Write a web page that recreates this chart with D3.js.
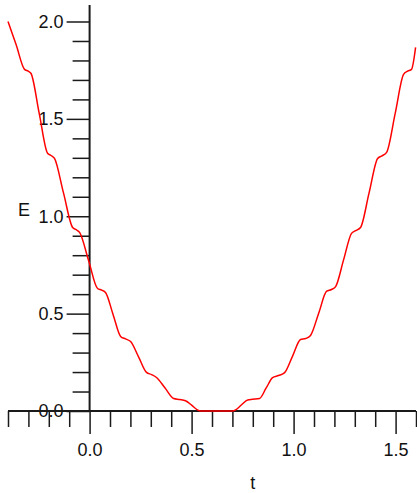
<!DOCTYPE html>
<html>
<head>
<meta charset="utf-8">
<script src="https://cdn.jsdelivr.net/npm/d3@7"></script>
<style>
  html, body { margin: 0; padding: 0; background: #fff; }
  svg { display: block; font-family: "Liberation Sans", Arial, Helvetica, sans-serif; }
</style>
</head>
<body>
<svg id="chart" width="417" height="493"></svg>
<script>
// Energy E as a function of time t (staircase-shaped parabola)
const tValues = [
  -0.400, -0.360, -0.319, -0.301, -0.287, -0.247, -0.206, -0.189, -0.172,
  -0.128, -0.083, -0.066, -0.049, -0.005, 0.039, 0.059, 0.078,
  0.115, 0.152, 0.176, 0.201, 0.240, 0.279, 0.304, 0.328,
  0.370, 0.412, 0.441, 0.470, 0.500, 0.528, 0.545, 0.620, 0.700,
  0.716, 0.745, 0.775, 0.799, 0.833, 0.865, 0.897, 0.926, 0.956,
  0.995, 1.034, 1.059, 1.083, 1.123, 1.162, 1.186, 1.206,
  1.245, 1.284, 1.304, 1.328, 1.370, 1.412, 1.431, 1.456,
  1.498, 1.539, 1.559, 1.578, 1.598
];
const eValues = [
  2.000, 1.880, 1.754, 1.745, 1.733, 1.528, 1.323, 1.312, 1.297,
  1.120, 0.942, 0.931, 0.917, 0.773, 0.629, 0.621, 0.609,
  0.496, 0.383, 0.370, 0.357, 0.278, 0.198, 0.187, 0.172,
  0.118, 0.064, 0.059, 0.053, 0.030, 0.006, 0.000, 0.000, 0.000,
  0.006, 0.032, 0.057, 0.060, 0.064, 0.117, 0.171, 0.182, 0.197,
  0.282, 0.367, 0.372, 0.388, 0.502, 0.615, 0.624, 0.639,
  0.776, 0.912, 0.926, 0.942, 1.120, 1.297, 1.309, 1.328,
  1.528, 1.728, 1.745, 1.754, 1.867
];

// Axis ticks
const xMajorTicks = [0, 0.5, 1.0, 1.5];
const xMinorTicks = [-0.4, -0.3, -0.2, -0.1, 0.1, 0.2, 0.3, 0.4, 0.6, 0.7, 0.8, 0.9,
                     1.1, 1.2, 1.3, 1.4, 1.6];
const yMajorTicks = [0, 0.5, 1.0, 1.5, 2.0];
const yMinorTicks = [0.1, 0.2, 0.3, 0.4, 0.6, 0.7, 0.8, 0.9, 1.1, 1.2, 1.3, 1.4,
                     1.6, 1.7, 1.8, 1.9];

const xLabel = "t";
const yLabel = "E";

const svg = d3.select("#chart");
const axisColor = "#1a1a1a";
const fontSize = 18;

const x = d3.scaleLinear().domain([-0.4, 1.6]).range([8, 416]);
const y = d3.scaleLinear().domain([0, 2.0]).range([411, 21.5]);

const x0 = x(0), y0 = y(0);
const fmt = d3.format(".1f");

// horizontal axis: minor and major ticks hanging below the line
const gx = svg.append("g").attr("transform", `translate(0,${y0})`);
gx.append("g")
  .call(d3.axisBottom(x).tickValues(xMinorTicks).tickSize(16).tickFormat(""))
  .call(g => g.select(".domain").remove());
gx.append("g")
  .call(d3.axisBottom(x).tickValues(xMajorTicks).tickSize(23).tickPadding(9).tickFormat(fmt))
  .call(g => g.select(".domain").remove());

// vertical axis: ticks pointing left
const gy = svg.append("g").attr("transform", `translate(${x0},0)`);
gy.append("g")
  .call(d3.axisLeft(y).tickValues(yMinorTicks).tickSize(17).tickFormat(""))
  .call(g => g.select(".domain").remove());
gy.append("g")
  .call(d3.axisLeft(y).tickValues(yMajorTicks).tickSize(23).tickPadding(3).tickFormat(fmt))
  .call(g => g.select(".domain").remove());

svg.selectAll(".tick line").attr("stroke", axisColor).attr("stroke-width", 1.5);
svg.selectAll(".tick text")
  .attr("fill", "#111")
  .style("font-size", fontSize + "px")
  .style("font-family", '"Liberation Sans", Arial, Helvetica, sans-serif');

// axis lines
svg.append("line")
  .attr("x1", x(-0.4)).attr("x2", x(1.6))
  .attr("y1", y0).attr("y2", y0)
  .attr("stroke", axisColor).attr("stroke-width", 2);
svg.append("line")
  .attr("x1", x0).attr("x2", x0)
  .attr("y1", 5).attr("y2", y0)
  .attr("stroke", axisColor).attr("stroke-width", 2);

// curve
const pts = tValues.map((t, i) => [t, eValues[i]]);
svg.append("path")
  .datum(pts)
  .attr("fill", "none")
  .attr("stroke", "#ff0000")
  .attr("stroke-width", 1.5)
  .attr("d", d3.line().x(d => x(d[0])).y(d => y(d[1])).curve(d3.curveMonotoneX));

// axis titles
svg.append("text")
  .attr("x", (x0 + x(1.6)) / 2)
  .attr("y", 489)
  .attr("text-anchor", "middle")
  .attr("fill", "#111")
  .style("font-size", fontSize + "px")
  .text(xLabel);
svg.append("text")
  .attr("x", 24)
  .attr("y", 216)
  .attr("text-anchor", "middle")
  .attr("fill", "#111")
  .style("font-size", fontSize + "px")
  .text(yLabel);
</script>
</body>
</html>
